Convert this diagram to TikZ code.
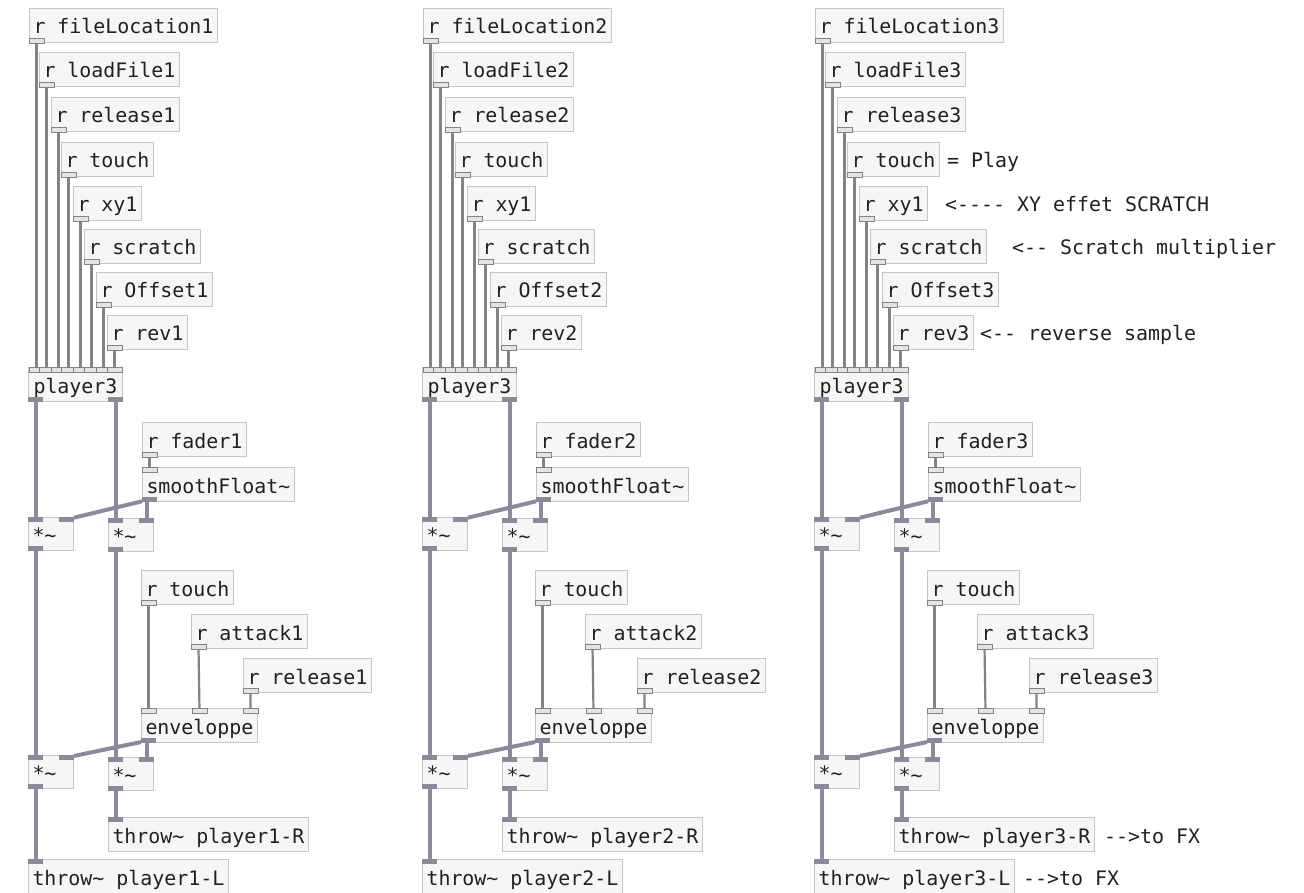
\documentclass[tikz,border=0pt]{standalone}
\usepackage{fontspec}
\usepackage{tikz}
\usetikzlibrary{positioning}
\newfontfamily\pdmono{DejaVu Sans Mono}[Ligatures=TeXOff]
\newcommand{\pdfont}{\pdmono\fontsize{19.93pt}{24pt}\selectfont}
\definecolor{pdInk}{HTML}{202020}
\definecolor{pdBoxLine}{HTML}{C6C6C6}
\definecolor{pdBoxFill}{HTML}{F6F6F6}
\definecolor{pdCtl}{HTML}{838383}
\definecolor{pdPortFill}{HTML}{E4E4E4}
\definecolor{pdSig}{HTML}{8B8A9C}
\tikzset{
  % object box
  obj/.style={rectangle,draw=pdBoxLine,fill=pdBoxFill,line width=1pt,
    anchor=north west,inner xsep=4pt,inner ysep=0pt,
    minimum height=34pt,text height=19pt,text depth=2pt,
    font=\pdfont,text=pdInk},
  % *~ box
  mulobj/.style={obj,text width=37pt,align=left,minimum height=33pt},
  % comment text
  cmt/.style={inner xsep=4pt,inner ysep=0pt,minimum height=34pt,
    text height=19pt,text depth=2pt,font=\pdfont,text=pdInk},
  % control inlet / outlet
  cport/.style={rectangle,draw=pdCtl,fill=pdPortFill,line width=0.9pt,
    minimum width=15pt,minimum height=5pt,inner sep=0pt,outer sep=0pt},
  % signal inlet / outlet
  sport/.style={rectangle,fill=pdSig,
    minimum width=15pt,minimum height=5pt,inner sep=0pt,outer sep=0pt},
  % connections
  ctl/.style={draw=pdCtl,line width=2.2pt},
  sig/.style={draw=pdSig,line width=4pt},
}
\begin{document}
\begin{tikzpicture}[x=1pt,y=-1pt]
  \fill[white] (0,0) rectangle (1304,893);
  \useasboundingbox (0,0) rectangle (1304,893);

  \foreach \g/\dx in {1/0,2/394,3/786}{
  \begin{scope}[xshift=\dx pt]
    % receives into player3
    \foreach \nm/\lbl/\px/\py in {fl/fileLocation\g/29/8, lf/loadFile\g/39/52,
        rl/release\g/51/97, tc/touch/61/142, xy/xy1/73/186, sc/scratch/84/229,
        of/Offset\g/96/272, rv/rev\g/107/315}{
      \node[obj] (\nm\g) at (\px,\py) {r \lbl};
      \node[cport,anchor=south west] (\nm\g-o) at (\nm\g.south west) {};
    }
    \node[obj,minimum width=94pt,align=left] (pl\g) at (28,367) {player3\hfill};
    \node[sport,anchor=south west] (pl\g-oL) at (pl\g.south west) {};
    \node[sport,anchor=south east] (pl\g-oR) at (pl\g.south east) {};
    \foreach \nm in {fl,lf,rl,tc,xy,sc,of,rv}{
      \node[cport,anchor=north west] (\nm\g-i) at (\nm\g-o.south west |- pl\g.north) {};
      \draw[ctl] (\nm\g-o) -- (\nm\g-i);
    }

    % fader
    \node[obj] (fd\g) at (142,422) {r fader\g};
    \node[cport,anchor=south west] (fd\g-o) at (fd\g.south west) {};
    \node[obj] (sm\g) at (142,467) {smoothFloat\textasciitilde};
    \node[cport,anchor=north west] (sm\g-i) at (sm\g.north west) {};
    \node[sport,anchor=south west] (sm\g-o) at (sm\g.south west) {};
    \draw[ctl] (fd\g-o) -- (sm\g-i);

    % multipliers
    \foreach \nm/\px/\py in {ma/28/517, mb/108/518, mc/28/755, md/108/757}{
      \node[mulobj] (\nm\g) at (\px,\py) {*\textasciitilde};
      \node[sport,anchor=north west] (\nm\g-iL) at (\nm\g.north west) {};
      \node[sport,anchor=north east] (\nm\g-iR) at (\nm\g.north east) {};
      \node[sport,anchor=south west] (\nm\g-o) at (\nm\g.south west) {};
    }

    % envelope
    \foreach \nm/\lbl/\px/\py in {tb/touch/141/570, ak/attack\g/191/614,
        rb/release\g/243/658}{
      \node[obj] (\nm\g) at (\px,\py) {r \lbl};
      \node[cport,anchor=south west] (\nm\g-o) at (\nm\g.south west) {};
    }
    \node[obj] (en\g) at (141,708) {enveloppe};
    \node[cport,anchor=north west] (en\g-i1) at (en\g.north west) {};
    \node[cport,anchor=north] (en\g-i2) at (en\g.north) {};
    \node[cport,anchor=north east] (en\g-i3) at (en\g.north east) {};
    \node[sport,anchor=south west] (en\g-o) at (en\g.south west) {};
    \draw[ctl] (tb\g-o) -- (en\g-i1);
    \draw[ctl] (ak\g-o) -- (en\g-i2);
    \draw[ctl] (rb\g-o) -- (en\g-i3);

    % outputs
    \node[obj] (tr\g) at (108,817) {throw\textasciitilde{} player\g-R};
    \node[sport,anchor=north west] (tr\g-i) at (tr\g.north west) {};
    \node[obj] (tl\g) at (28,859) {throw\textasciitilde{} player\g-L};
    \node[sport,anchor=north west] (tl\g-i) at (tl\g.north west) {};

    \draw[sig] (pl\g-oL) -- (ma\g-iL);
    \draw[sig] (pl\g-oR) -- (mb\g-iL);
    \draw[sig] (sm\g-o) -- (ma\g-iR);
    \draw[sig] (sm\g-o.south -| mb\g-iR) -- (mb\g-iR);
    \draw[sig] (ma\g-o) -- (mc\g-iL);
    \draw[sig] (mb\g-o) -- (md\g-iL);
    \draw[sig] (en\g-o) -- (mc\g-iR);
    \draw[sig] (en\g-o.south -| md\g-iR) -- (md\g-iR);
    \draw[sig] (mc\g-o) -- (tl\g-i);
    \draw[sig] (md\g-o) -- (tr\g-i);
  \end{scope}
  }

  % comments
  \node[cmt,right=3pt of tc3] (cPlay) {= Play};
  \node[cmt,right=13pt of xy3] (cXY) {<---- XY effet SCRATCH};
  \node[cmt,right=21pt of sc3] (cScr) {<-- Scratch multiplier};
  \node[cmt,right=2pt of rv3] (cRev) {<-- reverse sample};
  \node[cmt,right=5pt of tr3] (cFxR) {-->to FX};
  \node[cmt,right=4pt of tl3] (cFxL) {-->to FX};
\end{tikzpicture}
\end{document}
